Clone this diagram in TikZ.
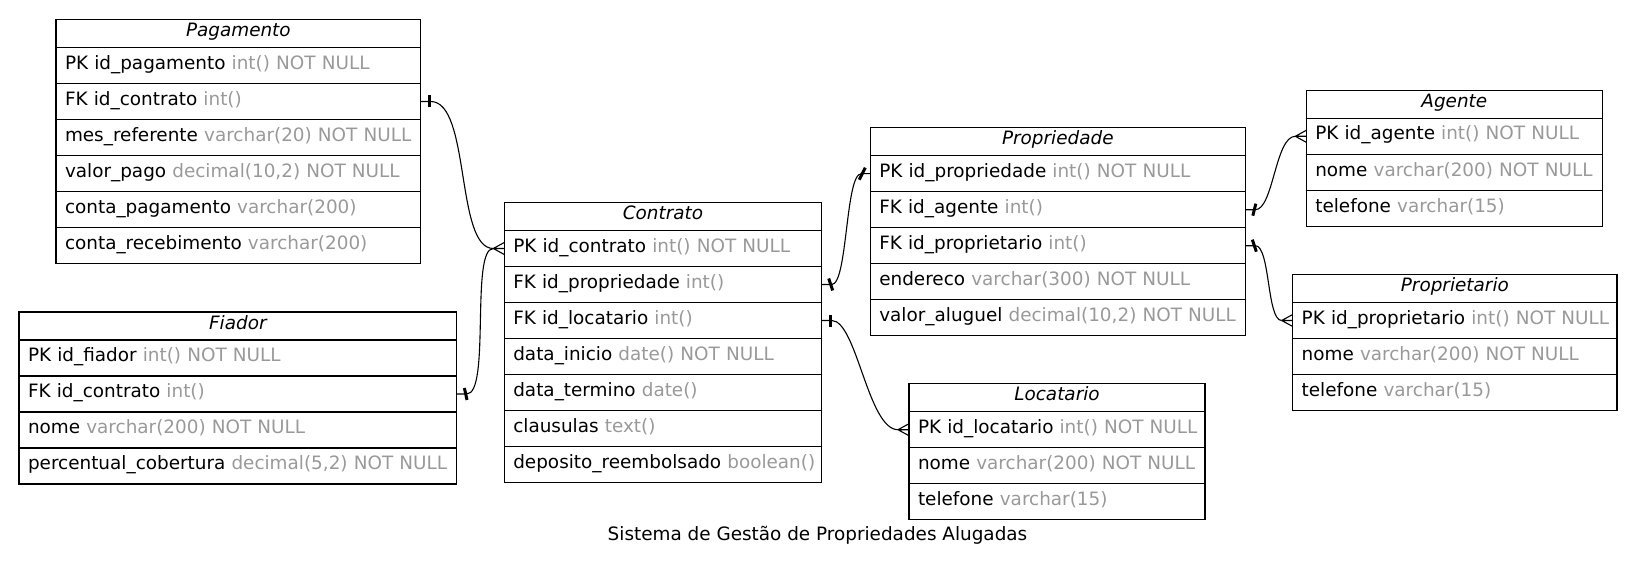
\documentclass[tikz,border=0pt]{standalone}
\usepackage{fontspec}
\setmainfont{DejaVu Sans}
\usetikzlibrary{calc}
\definecolor{attr}{HTML}{999999}
\newcommand\fld[2]{\mbox{#1 \textcolor{attr}{#2}}}
\begin{document}
\begin{tikzpicture}[x=1bp,y=-1bp,
  base/.style={draw, line width=1.2bp, anchor=north west, outer sep=0pt, inner xsep=9bp, inner ysep=0pt, font=\fontsize{18.4bp}{22bp}\selectfont},
  hdr/.style={base, minimum height=28bp, text height=13.4bp, text depth=7.4bp, align=center, font=\fontsize{18.4bp}{22bp}\selectfont\itshape},
  fld/.style={base, minimum height=36bp, text height=13.4bp, text depth=6bp, align=left},
  edge/.style={line width=1.1bp},
  teebar/.style={line width=3bp},
  pics/tee/.style={code={\draw[teebar] ({-(#1)},6)--({#1},-6);}},
  pics/tee/.default=0,
  pics/crow/.style={code={\draw[edge] (-11,0)--(0,-6) (-11,0)--(0,0) (-11,0)--(0,6);}},
]
\useasboundingbox (0,0) rectangle (1636,570);

% Pagamento
\node[hdr, text width=346.7bp] (pag) at (56,19.5) {Pagamento};
\node[fld, text width=346.7bp] (pag1) at (pag.south west) {\fld{PK id\_pagamento}{int() NOT NULL}};
\node[fld, text width=346.7bp] (pag2) at (pag1.south west) {\fld{FK id\_contrato}{int()}};
\node[fld, text width=346.7bp] (pag3) at (pag2.south west) {\fld{mes\_referente}{varchar(20) NOT NULL}};
\node[fld, text width=346.7bp] (pag4) at (pag3.south west) {\fld{valor\_pago}{decimal(10,2) NOT NULL}};
\node[fld, text width=346.7bp] (pag5) at (pag4.south west) {\fld{conta\_pagamento}{varchar(200)}};
\node[fld, text width=346.7bp] (pag6) at (pag5.south west) {\fld{conta\_recebimento}{varchar(200)}};

% Fiador
\node[hdr, text width=419.7bp] (fia) at (19,312) {Fiador};
\node[fld, text width=419.7bp] (fia1) at (fia.south west) {\fld{PK id\_fiador}{int() NOT NULL}};
\node[fld, text width=419.7bp] (fia2) at (fia1.south west) {\fld{FK id\_contrato}{int()}};
\node[fld, text width=419.7bp] (fia3) at (fia2.south west) {\fld{nome}{varchar(200) NOT NULL}};
\node[fld, text width=419.7bp] (fia4) at (fia3.south west) {\fld{percentual\_cobertura}{decimal(5,2) NOT NULL}};

% Contrato
\node[hdr, text width=299.4bp] (con) at (504.3,202.5) {Contrato};
\node[fld, text width=299.4bp] (con1) at (con.south west) {\fld{PK id\_contrato}{int() NOT NULL}};
\node[fld, text width=299.4bp] (con2) at (con1.south west) {\fld{FK id\_propriedade}{int()}};
\node[fld, text width=299.4bp] (con3) at (con2.south west) {\fld{FK id\_locatario}{int()}};
\node[fld, text width=299.4bp] (con4) at (con3.south west) {\fld{data\_inicio}{date() NOT NULL}};
\node[fld, text width=299.4bp] (con5) at (con4.south west) {\fld{data\_termino}{date()}};
\node[fld, text width=299.4bp] (con6) at (con5.south west) {\fld{clausulas}{text()}};
\node[fld, text width=299.4bp] (con7) at (con6.south west) {\fld{deposito\_reembolsado}{boolean()}};

% Propriedade
\node[hdr, text width=357bp] (prop) at (870.3,127.7) {Propriedade};
\node[fld, text width=357bp] (prop1) at (prop.south west) {\fld{PK id\_propriedade}{int() NOT NULL}};
\node[fld, text width=357bp] (prop2) at (prop1.south west) {\fld{FK id\_agente}{int()}};
\node[fld, text width=357bp] (prop3) at (prop2.south west) {\fld{FK id\_proprietario}{int()}};
\node[fld, text width=357bp] (prop4) at (prop3.south west) {\fld{endereco}{varchar(300) NOT NULL}};
\node[fld, text width=357bp] (prop5) at (prop4.south west) {\fld{valor\_aluguel}{decimal(10,2) NOT NULL}};

% Agente
\node[hdr, text width=278bp] (age) at (1306.3,90.3) {Agente};
\node[fld, text width=278bp] (age1) at (age.south west) {\fld{PK id\_agente}{int() NOT NULL}};
\node[fld, text width=278bp] (age2) at (age1.south west) {\fld{nome}{varchar(200) NOT NULL}};
\node[fld, text width=278bp] (age3) at (age2.south west) {\fld{telefone}{varchar(15)}};

% Proprietario
\node[hdr, text width=306.3bp] (prt) at (1292.7,274.5) {Proprietario};
\node[fld, text width=306.3bp] (prt1) at (prt.south west) {\fld{PK id\_proprietario}{int() NOT NULL}};
\node[fld, text width=306.3bp] (prt2) at (prt1.south west) {\fld{nome}{varchar(200) NOT NULL}};
\node[fld, text width=306.3bp] (prt3) at (prt2.south west) {\fld{telefone}{varchar(15)}};

% Locatario
\node[hdr, text width=278bp] (loc) at (909,383.7) {Locatario};
\node[fld, text width=278bp] (loc1) at (loc.south west) {\fld{PK id\_locatario}{int() NOT NULL}};
\node[fld, text width=278bp] (loc2) at (loc1.south west) {\fld{nome}{varchar(200) NOT NULL}};
\node[fld, text width=278bp] (loc3) at (loc2.south west) {\fld{telefone}{varchar(15)}};

% title
\node[font=\fontsize{18.4bp}{22bp}\selectfont, anchor=base] (title) at (817.5,540.7) {Sistema de Gestão de Propriedades Alugadas};

% edges
\draw[edge] (pag2.east) -- ([xshift=10bp]pag2.east) .. controls +(40,0) and +(-38,0) .. ([xshift=-11bp]con1.west);
\pic at ([xshift=9bp]pag2.east) {tee};
\draw[edge] (fia2.east) -- ([xshift=10bp]fia2.east) .. controls +(24,0) and +(-23,0) .. ([xshift=-11bp]con1.west);
\pic at ([xshift=9bp]fia2.east) {tee=-1.3};
\pic at (con1.west) {crow};

\draw[edge] (con2.east) -- ([xshift=10bp]con2.east) .. controls +(16,0) and +(-16,0) .. ([xshift=-9bp]prop1.west) -- (prop1.west);
\pic at ([xshift=9bp]con2.east) {tee=-2};
\pic at ([xshift=-8bp]prop1.west) {tee=3};

\draw[edge] (con3.east) -- ([xshift=10bp]con3.east) .. controls +(25,0) and +(-30,0) .. ([xshift=-11bp]loc1.west);
\pic at ([xshift=9bp]con3.east) {tee};
\pic at (loc1.west) {crow};

\draw[edge] (prop2.east) -- ([xshift=10bp]prop2.east) .. controls +(18,0) and +(-20,0) .. ([xshift=-11bp]age1.west);
\pic at ([xshift=9bp]prop2.east) {tee=1.5};
\pic at (age1.west) {crow};

\draw[edge] (prop3.east) -- ([xshift=10bp]prop3.east) .. controls +(15,0) and +(-15,0) .. ([xshift=-11bp]prt1.west);
\pic at ([xshift=9bp]prop3.east) {tee=-2};
\pic at (prt1.west) {crow};
\end{tikzpicture}
\end{document}
